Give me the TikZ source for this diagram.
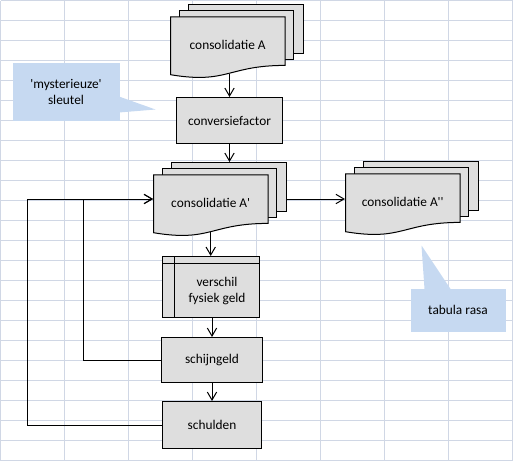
\documentclass[tikz,border=0pt]{standalone}
\usepackage{fontspec}
\newfontfamily\calfont{Carlito}
\usetikzlibrary{arrows.meta,calc}
\definecolor{gridcol}{RGB}{208,215,229}
\definecolor{notecol}{RGB}{198,217,241}
\definecolor{shapecol}{RGB}{222,222,222}
\begin{document}
\begin{tikzpicture}[x=0.75pt,y=-0.75pt,line width=0.75pt,
  every node/.style={font=\calfont\fontsize{10}{12}\selectfont,align=center},
  gridline/.style={gridcol,line width=0.75pt},
  page/.style={draw=black,fill=shapecol},
  procbox/.style={draw=black,fill=shapecol,inner sep=0pt},
  note/.style={fill=notecol,inner sep=0pt},
  arr/.style={-{Straight Barb[length=6pt,width=7pt]}}]
\useasboundingbox (-0.5,-0.5) rectangle (512.5,460.5);
% sheet grid
\foreach \gx in {0,64,...,512} {\draw[gridline] (\gx,0)--(\gx,460);}
\foreach \gy in {0,20,...,460} {\draw[gridline] (0,\gy)--(512,\gy);}
% callouts
\node[note,minimum width=80.25pt,minimum height=43.5pt] (keynote) at (65.5,91) {'mysterieuze'\\sleutel};
\coordinate (keytip) at (155,109);
\fill[notecol] ($(keynote.east)+(-1,5)$) -- (keytip) -- ($(keynote.east)+(-1,21)$) -- cycle;
\node[note,minimum width=71.25pt,minimum height=32.25pt] (rasanote) at (457.5,309.5) {tabula rasa};
\coordinate (rasatip) at (421,245);
\fill[notecol] ($(rasanote.north)+(-33.5,1)$) -- (rasatip) -- ($(rasanote.north)+(-7.5,1)$) -- cycle;
% document stacks
\foreach \x/\y/\n/\s/\t in {170/4/docA/stackA/{consolidatie A},153/162/docB/stackB/{consolidatie A'},345/161/docC/stackC/{consolidatie A''}} {
  \begin{scope}[shift={(\x,\y)}]
  \draw[page] (18.3,0) rectangle (133,48.6);
  \draw[page] (9.4,6.1) rectangle (123.1,54.9);
  \draw[page] (0,12.4) -- (114.5,12.4) -- (114.5,60.9) .. controls (57.2,60.9) and (57.2,79.8) .. (0,70.2) -- cycle;
  \node[minimum width=85.9pt,minimum height=42.45pt,inner sep=0pt] (\n) at (57.2,40.7) {\t};
  \node[minimum width=99.75pt,minimum height=54.75pt,inner sep=0pt] (\s) at (66.5,36.5) {};
  \end{scope}
}
% process boxes
\node[procbox,minimum width=79.5pt,minimum height=34.5pt] (conv) at (229,120) {conversiefactor};
\node[procbox,minimum width=72.75pt,minimum height=45.75pt] (versch) at (210.5,286.5) {};
\draw ($(versch.north west)+(12,0)$) -- ($(versch.south west)+(12,0)$);
\draw ($(versch.north west)+(0,7)$) -- ($(versch.north east)+(0,7)$);
\node (verschtxt) at (216.5,290.5) {verschil\\fysiek geld};
\node[procbox,minimum width=75.75pt,minimum height=33.75pt] (schijn) at (211.5,359.5) {schijngeld};
\node[procbox,minimum width=74.25pt,minimum height=35.25pt] (schuld) at (211.5,424.5) {schulden};
% connectors
\coordinate (loopin) at (83,0);
\coordinate (loopout) at (27,0);
\draw[arr] (docA.south -| conv.north) -- (conv.north);
\draw[arr] (conv.south) -- (conv.south |- stackB.north);
\draw[arr] (docB.south) -- (docB.south |- versch.north);
\draw[arr] (schijn.north |- versch.south) -- (schijn.north);
\draw[arr] (schijn.south) -- (schijn.south |- schuld.north);
\draw[arr] (stackB.east) -- (stackB.east -| docC.west);
\draw[arr] (schijn.west) -- (schijn.west -| loopin) |- (stackB.west);
\draw[arr] (schuld.west) -- (schuld.west -| loopout) |- (stackB.west);
\end{tikzpicture}
\end{document}
